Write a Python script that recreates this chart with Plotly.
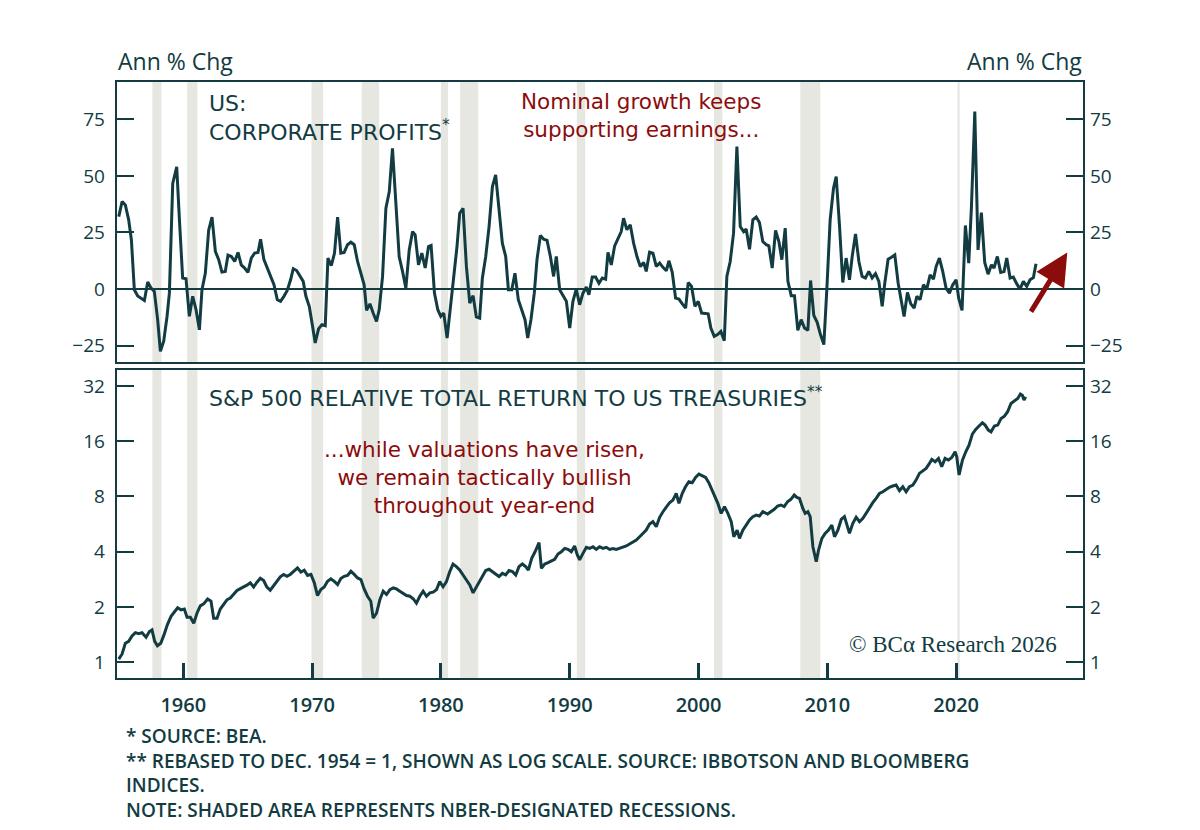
import plotly.graph_objects as go

# US corporate profits, annual % change (quarterly)
profit_year = [
    1954.99, 1955.25, 1955.5, 1955.76, 1955.97, 1956.2, 1956.46, 1956.72, 1956.98, 1957.24,
    1957.5, 1957.75, 1958.01, 1958.22, 1958.48, 1958.74, 1958.92, 1959.18, 1959.49, 1959.7,
    1959.95, 1960.21, 1960.47, 1960.73, 1960.99, 1961.25, 1961.45, 1961.71, 1961.97, 1962.23,
    1962.49, 1962.75, 1963.0, 1963.26, 1963.47, 1963.73, 1963.99, 1964.25, 1964.5, 1964.76,
    1965.02, 1965.28, 1965.54, 1965.8, 1966.0, 1966.26, 1966.52, 1966.78, 1967.04, 1967.3,
    1967.55, 1967.81, 1968.07, 1968.33, 1968.54, 1968.8, 1969.06, 1969.31, 1969.52, 1969.78,
    1970.04, 1970.24, 1970.5, 1970.76, 1971.02, 1971.23, 1971.49, 1971.74, 1971.98, 1972.23,
    1972.49, 1972.75, 1973.01, 1973.27, 1973.53, 1973.79, 1974.04, 1974.23, 1974.49, 1974.74,
    1975.0, 1975.21, 1975.47, 1975.73, 1975.99, 1976.24, 1976.5, 1976.76, 1977.02, 1977.28,
    1977.54, 1977.8, 1978.0, 1978.26, 1978.52, 1978.78, 1979.04, 1979.24, 1979.5, 1979.76,
    1979.99, 1980.22, 1980.48, 1980.74, 1981.0, 1981.25, 1981.46, 1981.72, 1981.98, 1982.24,
    1982.5, 1982.75, 1983.01, 1983.22, 1983.48, 1983.74, 1984.0, 1984.25, 1984.51, 1984.77,
    1985.03, 1985.24, 1985.5, 1985.75, 1986.01, 1986.27, 1986.53, 1986.74, 1986.99, 1987.25,
    1987.46, 1987.72, 1987.98, 1988.24, 1988.5, 1988.75, 1988.96, 1989.22, 1989.48, 1989.74,
    1990.0, 1990.25, 1990.51, 1990.77, 1991.03, 1991.29, 1991.49, 1991.75, 1992.01, 1992.27,
    1992.53, 1992.79, 1992.97, 1993.23, 1993.49, 1993.74, 1994.0, 1994.18, 1994.44, 1994.7,
    1994.96, 1995.22, 1995.48, 1995.74, 1995.94, 1996.2, 1996.46, 1996.72, 1996.98, 1997.24,
    1997.5, 1997.7, 1997.96, 1998.22, 1998.48, 1998.74, 1999.0, 1999.2, 1999.46, 1999.72,
    1999.98, 2000.24, 2000.49, 2000.75, 2000.96, 2001.22, 2001.48, 2001.74, 2002.0, 2002.2,
    2002.46, 2002.72, 2002.98, 2003.24, 2003.5, 2003.7, 2003.96, 2004.22, 2004.48, 2004.73,
    2004.99, 2005.26, 2005.46, 2005.72, 2005.98, 2006.24, 2006.47, 2006.73, 2006.94, 2007.2,
    2007.45, 2007.71, 2007.97, 2008.23, 2008.49, 2008.7, 2008.95, 2009.21, 2009.47, 2009.73,
    2009.96, 2010.22, 2010.48, 2010.69, 2010.95, 2011.2, 2011.46, 2011.72, 2011.93, 2012.19,
    2012.45, 2012.7, 2012.96, 2013.22, 2013.48, 2013.74, 2014.0, 2014.26, 2014.46, 2014.72,
    2014.98, 2015.24, 2015.5, 2015.7, 2015.96, 2016.22, 2016.48, 2016.74, 2016.95, 2017.2,
    2017.46, 2017.72, 2017.98, 2018.24, 2018.45, 2018.7, 2018.96, 2019.22, 2019.48, 2019.74,
    2020.0, 2020.2, 2020.46, 2020.72, 2020.98, 2021.19, 2021.45, 2021.7, 2021.96, 2022.22,
    2022.48, 2022.74, 2022.94, 2023.2, 2023.46, 2023.72, 2023.93, 2024.19, 2024.44, 2024.7,
    2024.96, 2025.22, 2025.48, 2025.74, 2026.0, 2026.2,
]
profit_growth = [
    32, 38.7, 37.2, 30.6, 21.8, -0.3, -3, -4, -5, 3.1,
    0.4, -1, -13.5, -27.5, -23, -12, -1.8, 46.7, 54, 30.6,
    4.9, 4.6, -12, -3.2, -9.1, -18, -0.3, 7, 26, 31.8,
    16.6, 13, 7.5, 7.8, 15, 14.4, 12.2, 16.2, 10.7, 9.3,
    7.4, 13.7, 15.9, 16.2, 22, 13, 9.3, 5.6, 1.9, -4.7,
    -5.4, -3.2, -0.6, 4.1, 9, 8.2, 5.6, 3.4, -3.2, -7.6,
    -16.5, -23.8, -17.6, -15.7, -16.2, 13.7, 10.4, 15.9, 31.8, 15.9,
    16.2, 19.6, 20.7, 19.6, 12.2, 6.3, 1.9, -9.4, -6.5, -10.6,
    -14.3, -9.1, 5.6, 35.7, 43, 62.2, 38, 14.4, 7.8, 0.4,
    17.3, 25.4, 24, 10.7, 15.9, 9.3, 18.8, 19.3, -1.8, -9.1,
    -12, -10.6, -21.6, -9.1, 5.6, 18.8, 33.5, 35.7, 10, -6.2,
    -2.9, -12.3, -12.8, 4.9, 14.4, 27.6, 45.3, 50.4, 33.5, 20.3,
    14.4, -0.3, -0.3, 7, -4.7, -9.1, -13.5, -21.6, -13.5, -1.8,
    13, 23.7, 22, 21.5, 14.4, 5.6, 14.4, -0.3, -2.9, -5.4,
    -17.2, -5.4, 0, -6.9, -1.8, 0.9, -2.5, 5.3, 5.3, 2.6,
    4.9, 4.4, 16.2, 10.7, 19.1, 22, 25.4, 31.3, 26.2, 28.4,
    20.3, 14.4, 10, 11.8, 7.8, 16.3, 15.9, 10, 11.5, 9.6,
    8.1, 12.5, 7.4, -4, -4.4, -6.5, -8.4, 2.9, 1.2, -7.6,
    -5.4, -10.6, -10.6, -10.9, -17.2, -20.9, -20.1, -18.7, -22.8, 5.6,
    12.2, 24.7, 62.9, 27.6, 25.4, 26.5, 17.6, 30.6, 31.8, 29.4,
    21, 19.6, 19.1, 9.3, 25.9, 21, 13, 26.9, 3.4, -2.9,
    -2.9, -18.2, -13.5, -17.2, -18.2, 3.8, -11.6, -14.7, -20.1, -24.5,
    -0.3, 30.6, 44.5, 49.7, 27.6, 2.9, 13.7, 4.1, 14.4, 24.4,
    12.2, 5.6, 4.9, 7.8, 4.9, 6.8, 3.4, -7.6, 2.6, 13.2,
    14.1, 15.1, 2.6, -4, -12.1, -1.5, -6.5, -8.4, -3.2, -4.7,
    1.9, 0, 6.3, 4.4, 10, 13.7, 7.8, 0.4, -1.8, 1.9,
    4.1, -4, -9.4, 28.1, 11.5, 36.5, 78.4, 17.3, 33.8, 11.8,
    6.6, 10.7, 9.3, 14.4, 7.4, 7.8, 13.7, 4.9, 5.3, 2.4,
    0, 3.4, 1.2, 4.1, 5.1, 11.2,
]

# S&P 500 total return relative to US Treasuries, Dec 1954 = 1
rel_year = [
    1954.99, 1955.25, 1955.5, 1955.76, 1956.02, 1956.28, 1956.54, 1956.8, 1957.11, 1957.37,
    1957.57, 1957.78, 1957.99, 1958.25, 1958.5, 1958.76, 1959.05, 1959.31, 1959.56, 1959.82,
    1960.08, 1960.29, 1960.55, 1960.81, 1961.06, 1961.32, 1961.58, 1961.89, 1962.15, 1962.36,
    1962.62, 1962.87, 1963.13, 1963.39, 1963.65, 1963.91, 1964.17, 1964.43, 1964.68, 1964.94,
    1965.2, 1965.46, 1965.72, 1965.98, 1966.24, 1966.49, 1966.75, 1967.01, 1967.27, 1967.53,
    1967.79, 1968.05, 1968.3, 1968.56, 1968.87, 1969.13, 1969.39, 1969.65, 1969.91, 1970.17,
    1970.42, 1970.68, 1970.94, 1971.2, 1971.46, 1971.72, 1971.98, 1972.23, 1972.49, 1972.75,
    1973.01, 1973.27, 1973.53, 1973.79, 1974.04, 1974.3, 1974.56, 1974.74, 1975.0, 1975.26,
    1975.52, 1975.78, 1976.04, 1976.3, 1976.55, 1976.81, 1977.07, 1977.33, 1977.59, 1977.85,
    1978.1, 1978.36, 1978.62, 1978.88, 1979.14, 1979.4, 1979.66, 1979.91, 1980.17, 1980.43,
    1980.69, 1980.94, 1981.2, 1981.46, 1981.72, 1981.98, 1982.24, 1982.5, 1982.7, 1982.96,
    1983.22, 1983.48, 1983.74, 1984.0, 1984.25, 1984.51, 1984.77, 1985.03, 1985.29, 1985.55,
    1985.81, 1986.06, 1986.32, 1986.58, 1986.79, 1987.05, 1987.31, 1987.62, 1987.8, 1988.06,
    1988.32, 1988.57, 1988.83, 1989.09, 1989.35, 1989.61, 1989.87, 1990.12, 1990.38, 1990.59,
    1990.77, 1991.03, 1991.29, 1991.55, 1991.81, 1992.06, 1992.32, 1992.58, 1992.84, 1993.1,
    1993.36, 1993.62, 1993.87, 1994.13, 1994.39, 1994.65, 1994.91, 1995.17, 1995.43, 1995.68,
    1995.94, 1996.2, 1996.46, 1996.72, 1996.98, 1997.24, 1997.5, 1997.75, 1998.01, 1998.27,
    1998.48, 1998.74, 1998.99, 1999.25, 1999.51, 1999.77, 2000.03, 2000.29, 2000.55, 2000.8,
    2001.06, 2001.32, 2001.5, 2001.76, 2002.02, 2002.28, 2002.54, 2002.74, 2003.0, 2003.18,
    2003.44, 2003.7, 2003.96, 2004.22, 2004.48, 2004.73, 2004.99, 2005.36, 2005.62, 2005.88,
    2006.14, 2006.39, 2006.65, 2006.91, 2007.17, 2007.43, 2007.64, 2007.84, 2008.1, 2008.28,
    2008.49, 2008.67, 2008.88, 2009.14, 2009.32, 2009.58, 2009.83, 2010.09, 2010.35, 2010.56,
    2010.82, 2011.08, 2011.33, 2011.51, 2011.72, 2011.98, 2012.24, 2012.5, 2012.76, 2013.01,
    2013.27, 2013.53, 2013.79, 2014.05, 2014.31, 2014.57, 2014.82, 2015.08, 2015.34, 2015.6,
    2015.86, 2016.12, 2016.38, 2016.64, 2016.89, 2017.15, 2017.41, 2017.67, 2017.93, 2018.11,
    2018.37, 2018.63, 2018.88, 2019.14, 2019.4, 2019.66, 2019.92, 2020.05, 2020.23, 2020.49,
    2020.75, 2021.0, 2021.26, 2021.52, 2021.78, 2022.04, 2022.25, 2022.5, 2022.71, 2022.97,
    2023.23, 2023.49, 2023.75, 2024.0, 2024.26, 2024.52, 2024.78, 2024.99, 2025.14, 2025.27,
    2025.4,
]
rel_return = [
    1.04, 1.11, 1.27, 1.30, 1.39, 1.45, 1.43, 1.45, 1.37, 1.47,
    1.50, 1.30, 1.23, 1.27, 1.41, 1.60, 1.78, 1.89, 1.98, 1.93,
    1.95, 1.76, 1.76, 1.63, 1.85, 2.03, 2.08, 2.21, 2.15, 1.74,
    1.74, 1.95, 2.06, 2.19, 2.24, 2.36, 2.46, 2.52, 2.57, 2.63,
    2.71, 2.57, 2.73, 2.87, 2.79, 2.57, 2.47, 2.62, 2.79, 2.92,
    3.01, 2.94, 3.01, 3.13, 3.27, 3.10, 3.17, 2.97, 3.01, 2.71,
    2.31, 2.49, 2.57, 2.76, 2.85, 2.76, 2.65, 2.86, 2.94, 2.97,
    3.13, 3.01, 2.88, 2.82, 2.51, 2.29, 2.15, 1.74, 1.85, 2.19,
    2.44, 2.34, 2.49, 2.54, 2.51, 2.44, 2.37, 2.31, 2.29, 2.22,
    2.10, 2.29, 2.44, 2.29, 2.39, 2.41, 2.49, 2.75, 2.58, 2.75,
    3.12, 3.43, 3.32, 3.18, 2.99, 2.83, 2.64, 2.39, 2.53, 2.69,
    2.93, 3.16, 3.21, 3.12, 3.03, 2.93, 3.05, 2.99, 3.16, 3.12,
    2.99, 3.32, 3.43, 3.32, 3.18, 3.68, 4.00, 4.48, 3.25, 3.43,
    3.49, 3.58, 3.64, 3.89, 4.00, 4.17, 4.12, 4.00, 4.30, 3.84,
    3.61, 3.92, 4.23, 4.17, 4.26, 4.12, 4.26, 4.17, 4.23, 4.12,
    4.17, 4.12, 4.17, 4.23, 4.30, 4.41, 4.54, 4.63, 4.83, 5.04,
    5.25, 5.66, 5.83, 5.48, 6.16, 6.61, 6.98, 7.40, 7.65, 8.32,
    7.34, 8.32, 9.04, 9.63, 9.51, 10.16, 10.6, 10.34, 10.16, 9.51,
    8.67, 7.81, 7.34, 6.47, 7.04, 6.47, 5.83, 4.83, 5.25, 4.73,
    5.25, 5.59, 5.96, 6.21, 6.34, 6.26, 6.61, 6.42, 6.61, 6.81,
    7.10, 7.19, 7.04, 7.49, 7.72, 8.15, 7.91, 7.81, 6.89, 6.47,
    6.61, 6.21, 4.26, 3.53, 4.09, 4.73, 5.04, 5.25, 5.59, 4.83,
    5.25, 6.00, 6.21, 5.71, 5.04, 5.71, 6.16, 5.83, 6.08, 6.47,
    6.98, 7.40, 7.81, 8.32, 8.49, 8.74, 8.97, 9.12, 9.24, 8.60,
    9.04, 8.49, 9.04, 9.24, 9.83, 10.69, 11.05, 11.38, 12.11, 12.74,
    12.37, 12.90, 11.62, 12.90, 12.63, 13.06, 14.02, 13.17, 10.47, 12.63,
    14.02, 15.24, 17.5, 18.55, 19.35, 20.17, 19.59, 18.4, 18.01, 19.35,
    19.59, 21.29, 21.92, 23.15, 25.7, 26.57, 27.36, 28.9, 28.5, 26.8,
    27.9,
]

# NBER recessions (decimal years)
rec_start = [1957.6, 1960.3, 1969.95, 1973.85, 1980.0, 1981.5, 1990.55, 2001.2, 2007.9, 2020.1]
rec_end = [1958.3, 1961.1, 1970.85, 1975.2, 1980.55, 1982.9, 1991.2, 2001.85, 2009.45, 2020.28]

x_ticks = [1960, 1970, 1980, 1990, 2000, 2010, 2020]
top_ticks = [-25, 0, 25, 50, 75]
bottom_ticks = [1, 2, 4, 8, 16, 32]

footnotes = [
    "* SOURCE: BEA.",
    "** REBASED TO DEC. 1954 = 1, SHOWN AS LOG SCALE. SOURCE: IBBOTSON AND BLOOMBERG",
    "INDICES.",
    "NOTE: SHADED AREA REPRESENTS NBER-DESIGNATED RECESSIONS.",
]

TEAL = "#123c42"
RED = "#8c0c0c"
SHADE = "#e7e7e1"
FONT = "Open Sans"

# the page puts an 8px body margin round the figure, so the figure is 16px smaller
W, H, OFF = 1184, 814, 8


def px(x):
    return (x - OFF) / W


def py(y):
    return 1 - (y - OFF) / H


x_range = [1954.83, 2029.85]
x_dom = [px(116.7), px(1083)]
top_dom = [py(362), py(81.7)]
bot_dom = [py(678), py(370)]
top_range = [-32.2, 91.6]
bot_range = [-0.0855, 1.592]

fig = go.Figure()

fig.add_trace(go.Scatter(x=profit_year, y=profit_growth, mode="lines",
                         line=dict(color=TEAL, width=3), xaxis="x", yaxis="y", hoverinfo="skip"))
fig.add_trace(go.Scatter(x=profit_year, y=profit_growth, mode="lines", opacity=0,
                         line=dict(width=0), xaxis="x", yaxis="y3", hoverinfo="skip"))
fig.add_trace(go.Scatter(x=rel_year, y=rel_return, mode="lines",
                         line=dict(color=TEAL, width=3), xaxis="x2", yaxis="y2", hoverinfo="skip"))
fig.add_trace(go.Scatter(x=rel_year, y=rel_return, mode="lines", opacity=0,
                         line=dict(width=0), xaxis="x2", yaxis="y4", hoverinfo="skip"))

for s, e in zip(rec_start, rec_end):
    for xr, yr in (("x", "y domain"), ("x2", "y2 domain")):
        fig.add_shape(type="rect", xref=xr, yref=yr, x0=s, x1=e, y0=0, y1=1,
                      fillcolor=SHADE, line_width=0, layer="below")

axis_common = dict(showline=True, linecolor=TEAL, linewidth=2, mirror=True,
                   showgrid=False, zeroline=False, tickcolor=TEAL,
                   tickfont=dict(family=FONT, size=19, color=TEAL, weight=500))

y_left = dict(axis_common, ticks="inside", ticklen=17, tickwidth=2, ticklabelstandoff=6)
y_right = dict(y_left, side="right", showline=False, mirror=False)

fig.update_layout(
    width=W, height=H,
    margin=dict(l=0, r=0, t=0, b=0),
    paper_bgcolor="white", plot_bgcolor="rgba(0,0,0,0)",
    showlegend=False,
    xaxis=dict(axis_common, domain=x_dom, anchor="y", range=x_range,
               showticklabels=False, ticks=""),
    xaxis2=dict(axis_common, domain=x_dom, anchor="y2", range=x_range, matches="x",
                tickvals=x_ticks, ticks="inside", ticklen=15, tickwidth=2.5,
                ticklabelstandoff=8,
                tickfont=dict(family=FONT, size=20, color=TEAL, weight=600)),
    yaxis=dict(y_left, domain=top_dom, anchor="x", range=top_range, tickvals=top_ticks,
               zeroline=True, zerolinecolor=TEAL, zerolinewidth=1.5),
    yaxis3=dict(y_right, overlaying="y", anchor="x", range=top_range, tickvals=top_ticks),
    yaxis2=dict(y_left, domain=bot_dom, anchor="x2", type="log", range=bot_range,
                tickvals=bottom_ticks),
    yaxis4=dict(y_right, overlaying="y2", anchor="x2", type="log", range=bot_range,
                tickvals=bottom_ticks),
)


def label(text, x, y, size=20, color=TEAL, xanchor="left", family=FONT, weight=400):
    fig.add_annotation(text=text, x=px(x), y=py(y), xref="paper", yref="paper",
                       xanchor=xanchor, yanchor="middle", align=xanchor,
                       showarrow=False,
                       font=dict(family=family, size=size, color=color, weight=weight))


label("Ann % Chg", 116, 61, size=23, weight=500)
label("Ann % Chg", 1084, 61, size=23, xanchor="right", weight=500)

label("US:<br>CORPORATE PROFITS<sup>*</sup>", 207, 118, size=22, family="DejaVu Sans")
label("S&P 500 RELATIVE TOTAL RETURN TO US TREASURIES<sup>**</sup>", 207, 397, size=22,
      family="DejaVu Sans")

label("Nominal growth keeps<br>supporting earnings...", 641, 116, size=21.5, color=RED,
      xanchor="center", family="DejaVu Sans")
label("...while valuations have risen,<br>we remain tactically bullish<br>throughout year-end",
      484, 478, size=21.5, color=RED, xanchor="center", family="DejaVu Sans")

label("© BCα Research 2026", 1059, 644, size=23, xanchor="right", family="Liberation Serif")

label("<br>".join(footnotes), 124, 773, size=19, weight=600)

# arrow pointing to the latest upturn in profits
fig.add_annotation(x=2028.63, y=16.2, ax=2025.74, ay=-10.6, xref="x", yref="y",
                   axref="x", ayref="y", text="", showarrow=True, arrowhead=2,
                   arrowsize=1.3, arrowwidth=5, arrowcolor=RED, standoff=0, startstandoff=0)

fig.write_html("out.html")
